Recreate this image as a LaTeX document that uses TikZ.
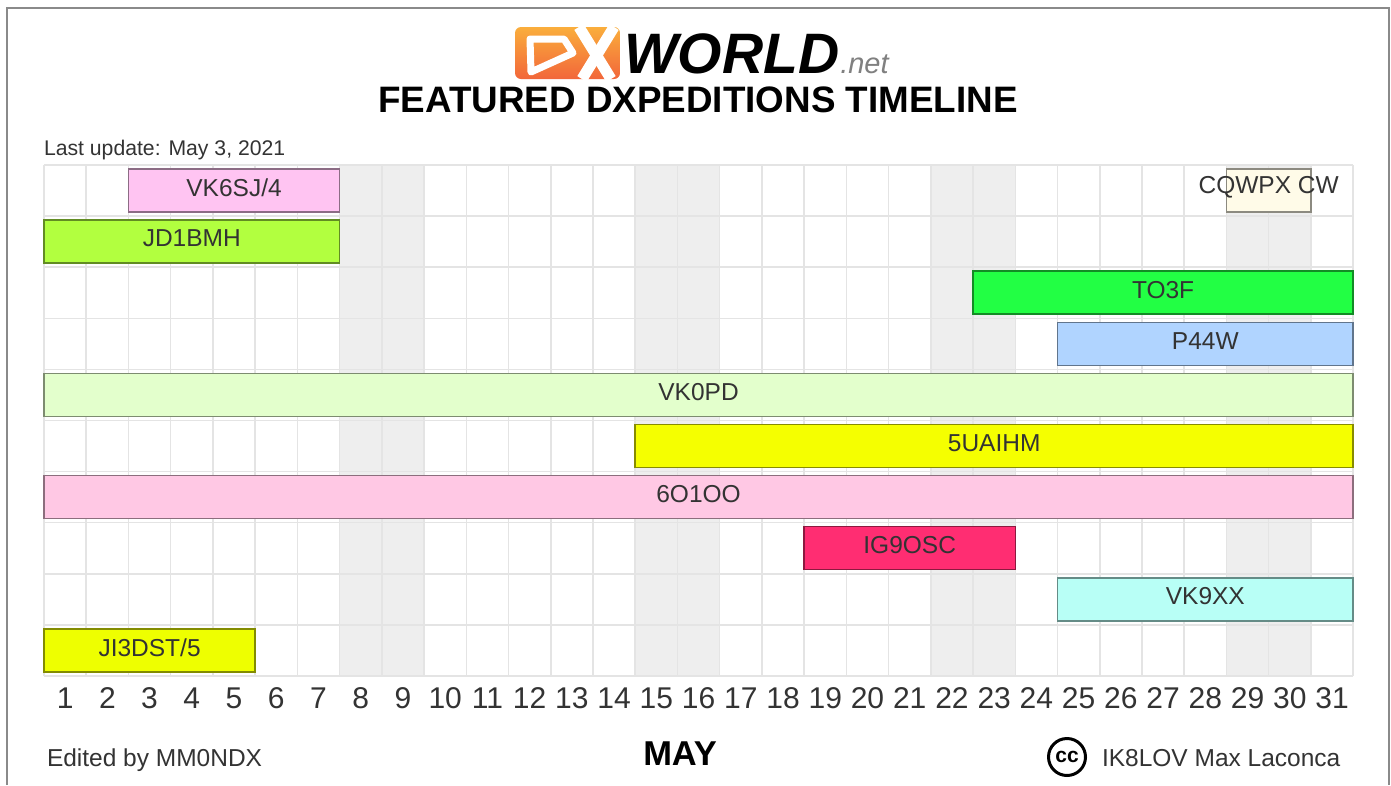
\documentclass[tikz,border=0pt]{standalone}
\usepackage{fontspec}
\setmainfont{Liberation Sans}
\usepackage{xcolor}
\usepackage{tikz}
\usetikzlibrary{positioning}

\definecolor{gridline}{HTML}{E4E4E4}
\definecolor{weekend}{HTML}{EEEEEE}
\definecolor{framegray}{HTML}{8A8A8A}
\definecolor{textgray}{HTML}{333333}
\definecolor{logotop}{HTML}{FAAE3C}
\definecolor{logobottom}{HTML}{F2663A}
\definecolor{cvk}{HTML}{FFC4F2}
\definecolor{cjd}{HTML}{B2FF3F}
\definecolor{ccq}{HTML}{FFFBE8}
\definecolor{cto}{HTML}{22FF44}
\definecolor{cpw}{HTML}{B0D4FF}
\definecolor{cvz}{HTML}{E3FFCC}
\definecolor{cua}{HTML}{F5FF00}
\definecolor{cso}{HTML}{FFC8E4}
\definecolor{cig}{HTML}{FF2D72}
\definecolor{cxx}{HTML}{B8FFF6}
\definecolor{cji}{HTML}{EEFF00}

\newcommand{\colw}{42.23}
\newcommand{\rowh}{51.1}

\begin{document}
\begin{tikzpicture}[
  x=1pt, y=-1pt,
  every node/.style={inner sep=0pt, outer sep=0pt},
  gridrule/.style={draw=gridline, line width=1.5pt},
  barbox/.style={draw=#1!55!black, fill=#1, line width=1.5pt, anchor=north west, minimum height=43pt},
  bartext/.style={text=textgray, font=\fontsize{24.5}{28}\selectfont},
  daylabel/.style={text=textgray, font=\fontsize{30}{34}\selectfont},
  foottext/.style={text=textgray, font=\fontsize{24.5}{28}\selectfont}
]

\useasboundingbox (0,0) rectangle (1391,785);
\fill[white] (0,0) rectangle (1391,785);
\draw[framegray, line width=1.6pt] (7,785) -- (7,8) -- (1389,8) -- (1389,785);

\foreach \first in {8,15,22,29}
  \fill[weekend] ({44+(\first-1)*\colw},165) rectangle ({44+(\first+1)*\colw},676);
\foreach \k in {0,...,31}
  \draw[gridrule] ({44+\k*\colw},165) -- ({44+\k*\colw},676);
\foreach \k in {0,...,10}
  \draw[gridrule] (44,{165+\k*\rowh}) -- (1353,{165+\k*\rowh});

\foreach \id/\first/\last/\row/\col/\txt in {
  vksj/3/7/0/cvk/{VK6SJ/4},
  jdbmh/1/7/1/cjd/JD1BMH,
  cqwpx/29/30/0/ccq/CQWPX CW,
  tof/23/31/2/cto/TO3F,
  pw/25/31/3/cpw/P44W,
  vkpd/1/31/4/cvz/VK0PD,
  uaihm/15/31/5/cua/5UAIHM,
  soo/1/31/6/cso/6O1OO,
  igosc/19/23/7/cig/IG9OSC,
  vkxx/25/31/8/cxx/VK9XX,
  jidst/1/5/9/cji/{JI3DST/5}
} {
  \node (\id) [barbox=\col, minimum width={(\last-\first+1)*\colw*1pt}] at ({44+(\first-1)*\colw},{169+\row*\rowh}) {};
  \node (\id-text) [bartext] at ([yshift=3pt]\id.center) {\txt};
}

\foreach \d in {1,...,31}
  \node (day\d) [daylabel] at ({44+(\d-0.5)*\colw},698) {\d};

\shade[top color=logotop, bottom color=logobottom, rounded corners=6pt] (515,27) rectangle (620,79);
\draw[white, line width=7pt, line join=round] (530,39) -- (564,39) -- (573,53) -- (531,72) -- cycle;
\draw[white, line width=11pt] (579,27) -- (611,79);
\draw[white, line width=11pt] (614,27) -- (582,79);
\fill[white] (620,27) -- (626,27) -- (626,79) -- (620,79) -- cycle;

\node (world) [anchor=base west, font=\fontsize{57}{60}\selectfont\bfseries\itshape] at (624,73) {WORLD};
\node (net) [right=1pt of world.base east, anchor=base west, text=gray, font=\fontsize{29}{32}\selectfont\itshape] {.net};
\node (title) [font=\fontsize{36.8}{40}\selectfont\bfseries] at (698,100) {FEATURED DXPEDITIONS TIMELINE};
\node (update) [anchor=west, text=textgray, font=\fontsize{21.2}{24}\selectfont] at (44,150) {Last update: May 3, 2021};

\node (editor) [foottext, anchor=west] at (47,760) {Edited by MM0NDX};
\node (month) [font=\fontsize{34.5}{38}\selectfont\bfseries] at (680,754) {MAY};
\node (author) [foottext, anchor=west] at (1102,758) {IK8LOV Max Laconca};
\node (cc) [circle, draw=black, line width=3pt, minimum size=37pt, font=\fontsize{21}{22}\selectfont\bfseries] at (1067,757) {cc};

\end{tikzpicture}
\end{document}
